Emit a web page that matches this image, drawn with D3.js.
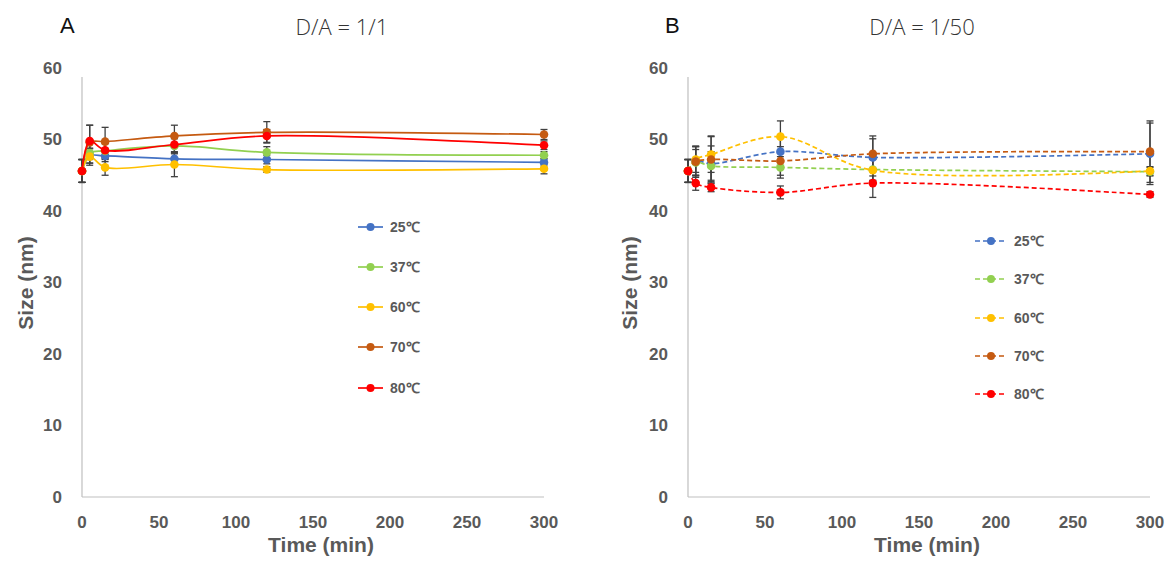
<!DOCTYPE html>
<html><head><meta charset="utf-8">
<script src="https://cdn.jsdelivr.net/npm/d3@7"></script>
<style>body{margin:0;background:#fff} svg{display:block;font-family:"Liberation Sans",Arial,sans-serif}</style>
</head><body><svg id="c" width="1173" height="561"></svg>
<script>
// ---- data ----
const times = [0, 5, 15, 60, 120, 300];
const temps = ["25℃", "37℃", "60℃", "70℃", "80℃"];
const xTicks = [0, 50, 100, 150, 200, 250, 300];
const yTicks = [0, 10, 20, 30, 40, 50, 60];
const panelLetters = ["A", "B"];
const panelTitles = ["D/A = 1/1", "D/A = 1/50"];

// Panel A (D/A = 1/1) mean sizes (nm)
const a25 = [45.6, 47.7, 47.7, 47.3, 47.2, 46.8];
const a37 = [45.6, 48.1, 48.4, 49.1, 48.2, 47.8];
const a60 = [45.6, 47.6, 46.1, 46.5, 45.8, 45.9];
const a70 = [45.6, 49.6, 49.7, 50.5, 51.0, 50.7];
const a80 = [45.6, 49.8, 48.5, 49.3, 50.5, 49.2];
// Panel A error (sd)
const a25e = [1.6, 1.0, 0.8, 0.7, 0.6, 0.5];
const a37e = [1.6, 1.4, 1.0, 1.0, 0.8, 0.5];
const a60e = [1.6, 1.2, 1.1, 1.7, 0.4, 0.7];
const a70e = [1.6, 2.4, 2.0, 1.5, 1.5, 0.7];
const a80e = [1.6, 2.2, 1.2, 1.0, 0.9, 0.6];

// Panel B (D/A = 1/50) mean sizes (nm)
const b25 = [45.6, 47.0, 46.6, 48.3, 47.5, 48.0];
const b37 = [45.6, 46.8, 46.3, 46.1, 45.8, 45.5];
const b60 = [45.6, 47.2, 47.9, 50.4, 45.7, 45.6];
const b70 = [45.6, 46.9, 47.2, 47.0, 48.0, 48.3];
const b80 = [45.6, 43.9, 43.3, 42.6, 43.9, 42.3];
// Panel B error (sd)
const b25e = [1.6, 2.0, 2.5, 2.0, 2.6, 4.3];
const b37e = [1.6, 1.8, 2.0, 1.5, 1.5, 0.6];
const b60e = [1.6, 1.8, 2.5, 2.2, 1.5, 0.6];
const b70e = [1.6, 2.2, 3.3, 2.0, 2.5, 4.3];
const b80e = [1.6, 1.0, 0.6, 0.9, 2.0, 0.4];

// ---- styles ----
const colors = ["#4472C4", "#92D050", "#FFC000", "#C55A11", "#FF0000"];
const txt = "#595959";

const panels = [
  { means: [a25, a37, a60, a70, a80], errs: [a25e, a37e, a60e, a70e, a80e], dashed: false,
    x0: 82, x1: 544, yLabX: 26, letterX: 60, titleX: 342, legX: 358, legY: [227, 267, 307, 347, 388], legLen: 25 },
  { means: [b25, b37, b60, b70, b80], errs: [b25e, b37e, b60e, b70e, b80e], dashed: true,
    x0: 688, x1: 1150, yLabX: 630, letterX: 665, titleX: 922, legX: 975, legY: [241, 279, 318, 356, 394], legLen: 32 }
];

const svg = d3.select("#c");
const y = d3.scaleLinear().domain([0, 60]).range([497, 68]);

panels.forEach((p, pi) => {
  const x = d3.scaleLinear().domain([0, 300]).range([p.x0, p.x1]);
  const g = svg.append("g");

  // axis lines
  g.append("line").attr("x1", p.x0).attr("x2", p.x0).attr("y1", 77).attr("y2", y(0))
    .attr("stroke", "#BFBFBF").attr("stroke-width", 1.2);
  g.append("line").attr("x1", p.x0).attr("x2", p.x1).attr("y1", y(0)).attr("y2", y(0))
    .attr("stroke", "#BFBFBF").attr("stroke-width", 1.2);

  // tick labels
  g.selectAll(".yt").data(yTicks).join("text")
    .attr("x", p.x0 - 20).attr("y", d => y(d)).attr("dy", "0.35em")
    .attr("text-anchor", "end").attr("fill", txt).attr("font-size", 17).attr("font-weight", 600)
    .text(d => d);
  g.selectAll(".xt").data(xTicks).join("text")
    .attr("x", d => x(d)).attr("y", 522).attr("dy", "0.35em")
    .attr("text-anchor", "middle").attr("fill", txt).attr("font-size", 17).attr("font-weight", 600)
    .text(d => d);

  // axis titles
  g.append("text").attr("transform", `translate(${p.yLabX},283) rotate(-90)`)
    .attr("text-anchor", "middle").attr("dy", "0.35em").attr("fill", txt)
    .attr("font-size", 21).attr("font-weight", "bold").text("Size (nm)");
  g.append("text").attr("x", (p.x0 + p.x1) / 2 + 8).attr("y", 545).attr("dy", "0.35em")
    .attr("text-anchor", "middle").attr("fill", txt)
    .attr("font-size", 21).attr("font-weight", "bold").text("Time (min)");

  // panel letter and title
  g.append("text").attr("x", p.letterX).attr("y", 25).attr("dy", "0.35em")
    .attr("fill", "#111").attr("font-size", 22).text(panelLetters[pi]);
  g.append("text").attr("x", p.titleX).attr("y", 27).attr("dy", "0.35em").attr("text-anchor", "middle")
    .attr("fill", "#333").attr("font-size", 22).attr("font-weight", 300)
    .style("font-family", "'Open Sans', 'Noto Sans', sans-serif").text(panelTitles[pi]);

  const line = d3.line().x((d, i) => x(times[i])).y(d => y(d)).curve(d3.curveCatmullRom.alpha(0.5));

  // error bars
  p.means.forEach((m, si) => {
    const e = p.errs[si];
    const eb = g.append("g").attr("stroke", "#404040").attr("stroke-width", 1.3);
    m.forEach((v, i) => {
      const cx = x(times[i]);
      eb.append("line").attr("x1", cx).attr("x2", cx).attr("y1", y(v - e[i])).attr("y2", y(v + e[i]));
      [v - e[i], v + e[i]].forEach(w => eb.append("line")
        .attr("x1", cx - 3.5).attr("x2", cx + 3.5).attr("y1", y(w)).attr("y2", y(w)));
    });
  });

  // lines + markers
  p.means.forEach((m, si) => {
    g.append("path").datum(m).attr("d", line).attr("fill", "none")
      .attr("stroke", colors[si]).attr("stroke-width", 1.7)
      .attr("stroke-dasharray", p.dashed ? "5,3" : null);
    g.selectAll(null).data(m).join("circle")
      .attr("cx", (d, i) => x(times[i])).attr("cy", d => y(d)).attr("r", 4.3)
      .attr("fill", colors[si]);
  });

  // legend
  temps.forEach((t, si) => {
    const ly = p.legY[si];
    g.append("line").attr("x1", p.legX).attr("x2", p.legX + p.legLen).attr("y1", ly).attr("y2", ly)
      .attr("stroke", colors[si]).attr("stroke-width", 1.7)
      .attr("stroke-dasharray", p.dashed ? "5,3" : null);
    g.append("circle").attr("cx", p.legX + p.legLen / 2).attr("cy", ly).attr("r", 4).attr("fill", colors[si]);
    g.append("text").attr("x", p.legX + p.legLen + 7).attr("y", ly).attr("dy", "0.35em")
      .attr("fill", txt).attr("font-size", 14).attr("font-weight", "bold").text(t);
  });
});
</script></body></html>
